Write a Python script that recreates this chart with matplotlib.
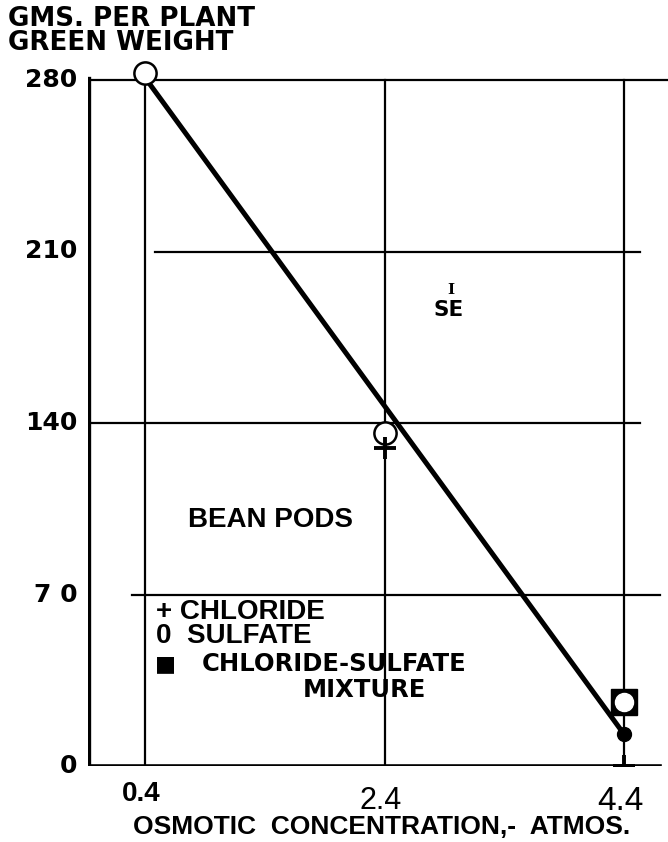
import matplotlib
matplotlib.use("Agg")
import matplotlib.pyplot as plt

# ---- data ----
x_ticks = [0.4, 2.4, 4.4]
x_tick_labels = ["0.4", "2.4", "4.4"]
y_ticks = [0, 70, 140, 210, 280]
y_tick_labels = ["0", "7 0", "140", "210", "280"]

chloride_x = [2.4, 4.4]
chloride_y = [130, 0]
sulfate_x = [0.4, 2.4, 4.4]
sulfate_y = [283, 136, 26]
mixture_x = [4.4]
mixture_y = [26]
mixture_dot_x = [4.4]
mixture_dot_y = [13]
fit_x = [0.4, 4.4]
fit_y = [281, 13]

W, H = 668, 842
fig = plt.figure(figsize=(W / 100, H / 100), dpi=100)
fig.patch.set_facecolor("white")

# axes placement in pixels
left_px, right_px = 88, 668
bottom_px = 766
px_per_unit_y = 2.45
ylim_top = 290
top_px = bottom_px - ylim_top * px_per_unit_y
ax = fig.add_axes([left_px / W, (H - bottom_px) / H,
                   (right_px - left_px) / W, (bottom_px - top_px) / H])
px_per_unit_x = (624 - 145) / 4.0
xmin = 0.4 - (145 - left_px) / px_per_unit_x
xmax = 0.4 + (right_px - 145) / px_per_unit_x
ax.set_xlim(xmin, xmax)
ax.set_ylim(0, ylim_top)
ax.axis("off")

def xfrac(px):
    return (px - left_px) / (right_px - left_px)

def yfrac(py):
    return (bottom_px - py) / (bottom_px - top_px)

k = "black"
# horizontal grid lines (extent in axes fraction)
h_extents = {280: (90, 668), 210: (155, 640), 140: (88, 640), 70: (132, 660)}
for yv in y_ticks[1:]:
    a, b = h_extents[yv]
    ax.axhline(yv, xmin=xfrac(a), xmax=xfrac(b), color=k, lw=1.6, zorder=1)
# vertical grid lines
for xv in x_ticks:
    ax.axvline(xv, ymin=0, ymax=yfrac(80), color=k, lw=1.6, zorder=1)
# left spine
ax.axvline(xmin + 0.01, ymin=0, ymax=yfrac(78), color=k, lw=2.4, zorder=1)
# bottom axis line
ax.axhline(0, xmin=xfrac(91), xmax=xfrac(660), color=k, lw=2.6, zorder=1)

# regression line
ax.plot(fit_x, fit_y, color=k, lw=3.6, solid_capstyle="butt", zorder=2)

# markers
ax.plot(mixture_x, mixture_y, marker="s", ms=19, mfc=k, mec=k, ls="none", zorder=3)
ax.plot(mixture_dot_x, mixture_dot_y, marker="o", ms=10, mfc=k, mec=k, ls="none", zorder=3)
ax.plot(sulfate_x[:2], sulfate_y[:2], marker="o", ms=16, mfc="white", mec=k, mew=1.8,
        ls="none", zorder=4)
ax.plot(sulfate_x[2:], sulfate_y[2:], marker="o", ms=13, mfc="white", mec="white",
        ls="none", zorder=4)
ax.plot(chloride_x, chloride_y, marker="+", ms=16, mew=2.8, color=k, ls="none", zorder=5)

# y tick labels
for yv, lab in zip(y_ticks, y_tick_labels):
    ax.text(xmin - 0.09, yv, lab, ha="right", va="center", fontsize=18,
            fontweight="bold", family="DejaVu Sans")
# x tick labels
xl_styles = [dict(fontweight="bold", fontsize=20, y=-6), dict(fontweight="normal", fontsize=22, y=-8),
             dict(fontweight="normal", fontsize=24, y=-8)]
for xv, lab, st in zip(x_ticks, x_tick_labels, xl_styles):
    yy = st.pop("y")
    ax.text(xv - 0.03, yy, lab, ha="center", va="top", family="Liberation Sans", **st)

fig.text(382 / W, 1 - 834 / H, "OSMOTIC  CONCENTRATION,-  ATMOS.", ha="center",
         va="baseline", fontsize=19, fontweight="bold", family="Liberation Sans")
fig.text(8 / W, 1 - 6 / H, "GMS. PER PLANT\nGREEN WEIGHT", ha="left", va="top",
         fontsize=18.8, fontweight="bold", family="DejaVu Sans", linespacing=0.9)

# annotations
fig.text(270 / W, 1 - 520 / H, "BEAN PODS", ha="center", va="center",
         fontsize=20, fontweight="bold", family="Liberation Sans")
fig.text(451 / W, 1 - 290 / H, "I", ha="center", va="center",
         fontsize=11, fontweight="bold", family="DejaVu Serif")
fig.text(449 / W, 1 - 310 / H, "SE", ha="center", va="center",
         fontsize=15.5, fontweight="bold", family="DejaVu Sans")

# legend text
fig.text(156 / W, 1 - 612 / H, "+ CHLORIDE", ha="left", va="center",
         fontsize=20, fontweight="bold", family="Liberation Sans")
fig.text(156 / W, 1 - 636 / H, "0  SULFATE", ha="left", va="center",
         fontsize=20, fontweight="bold", family="Liberation Sans")
fig.text(155 / W, 1 - 664 / H, "\u25A0", ha="left", va="center",
         fontsize=16, fontweight="bold", family="DejaVu Sans")
fig.text(202 / W, 1 - 664 / H, "CHLORIDE-SULFATE", ha="left", va="center",
         fontsize=17.5, fontweight="bold", family="DejaVu Sans")
fig.text(303 / W, 1 - 690 / H, "MIXTURE", ha="left", va="center",
         fontsize=17.5, fontweight="bold", family="DejaVu Sans")

fig.savefig("out.png", dpi=100, facecolor="white")
